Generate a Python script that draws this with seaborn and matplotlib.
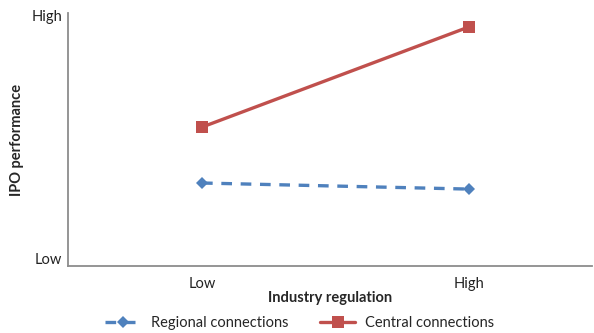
import matplotlib
matplotlib.use("Agg")
import matplotlib.pyplot as plt
import seaborn as sns
import pandas as pd

# Interaction plot: IPO performance by industry regulation
categories = ["Low", "High"]
regional = [0.328, 0.304]
central = [0.549, 0.945]
series_names = ["Regional connections", "Central connections"]

df = pd.DataFrame({
    "regulation": list(range(len(categories))) * 2,
    "performance": regional + central,
    "series": [series_names[0]] * len(regional) + [series_names[1]] * len(central),
})

sns.set_style("white")
plt.rcParams["font.family"] = ["Lato", "DejaVu Sans"]

fig = plt.figure(figsize=(5.94, 3.33), dpi=100)
ax = fig.add_axes([0.1145, 0.2012, 0.8821, 0.7598])

blue = "#4F81BD"
red = "#C0504D"

sns.lineplot(data=df[df.series == series_names[0]], x="regulation", y="performance",
             ax=ax, color=blue, linewidth=2.4, linestyle=(0, (3.2, 2.6)),
             marker="D", markersize=6.5, markeredgewidth=0, label=series_names[0])
sns.lineplot(data=df[df.series == series_names[1]], x="regulation", y="performance",
             ax=ax, color=red, linewidth=2.4, marker="s", markersize=8.5,
             markeredgewidth=0, label=series_names[1])

ax.set_xlim(-0.502, 1.461)
ax.set_ylim(0, 1)
ax.set_xticks(range(len(categories)))
ax.set_xticklabels(categories)
ax.set_yticks([0.03, 0.99])
ax.set_yticklabels(["Low", "High"])
ax.tick_params(axis="both", length=0, labelsize=10.5, colors="#222222")
ax.tick_params(axis="x", pad=8)
ax.tick_params(axis="y", pad=4)

for side in ["top", "right"]:
    ax.spines[side].set_visible(False)
for side in ["left", "bottom"]:
    ax.spines[side].set_color("#8c8c8c")
    ax.spines[side].set_linewidth(1.3)

ax.set_xlabel("Industry regulation", fontsize=10.5, fontweight="bold")
ax.set_ylabel("IPO performance", fontsize=10.5, fontweight="bold")
ax.xaxis.set_label_coords(0.5, -0.126)
ax.yaxis.set_label_coords(-0.097, 0.5)
ax.xaxis.label.set_verticalalignment("center")
ax.yaxis.label.set_verticalalignment("center")

ax.get_legend().remove()
handles, labels = ax.get_legend_handles_labels()
fig.legend(handles, labels, loc="center", bbox_to_anchor=(0.505, 0.03), ncol=2,
           frameon=False, fontsize=10.5, handlelength=2.4, columnspacing=2.2,
           handletextpad=0.7, borderpad=0)

fig.savefig("out.png", dpi=100)
